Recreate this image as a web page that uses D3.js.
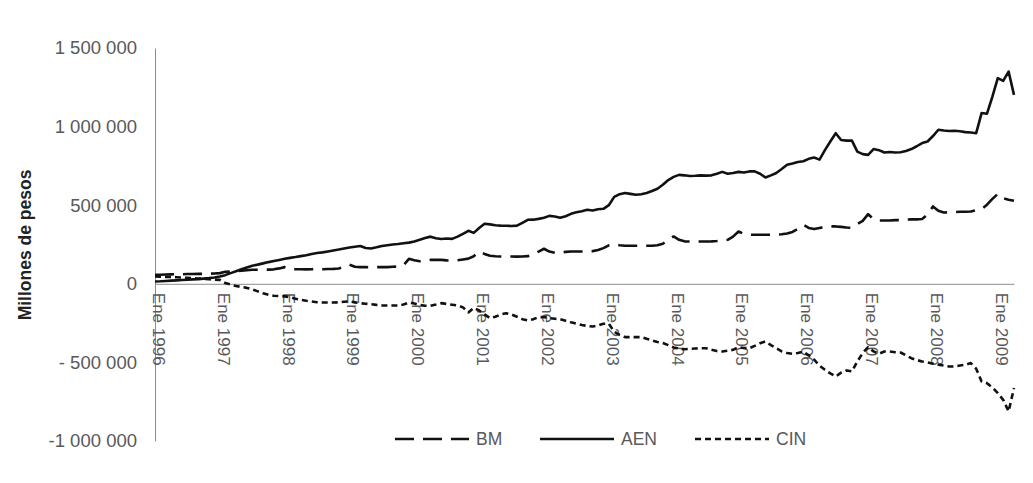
<!DOCTYPE html>
<html>
<head>
<meta charset="utf-8">
<script src="https://cdn.jsdelivr.net/npm/d3@7"></script>
<style>
	html, body { margin: 0; padding: 0; background: #fff; }
	svg { display: block; font-family: "Liberation Sans", Arial, sans-serif; }
</style>
</head>
<body>
<div id="chart"></div>
<script>
/* global d3 */

// Series values, monthly from Ene 1996, in thousands of millones de pesos
var years = [1996, 1997, 1998, 1999, 2000, 2001, 2002, 2003, 2004, 2005, 2006, 2007, 2008, 2009];
var monthNames = ['Ene', 'Feb', 'Mar', 'Abr', 'May', 'Jun', 'Jul', 'Ago', 'Sep', 'Oct', 'Nov', 'Dic'];

var bm = [
	57, 58, 59, 60, 61, 61, 62, 62, 63, 63, 64, 66,
	68, 76, 78, 80, 83, 86, 89, 89, 90, 90, 92, 98,
	106, 95, 93, 93, 92, 93, 94, 93, 94, 95, 97, 108,
	121, 108, 106, 106, 105, 106, 107, 106, 108, 110, 118, 159,
	150, 143, 145, 152, 153, 152, 149, 148, 150, 155, 160, 175,
	205, 190, 178, 175, 174, 174, 174, 173, 174, 176, 185, 205,
	223, 205, 197, 195, 203, 205, 205, 205, 205, 208, 215, 227,
	245, 252, 245, 242, 242, 242, 242, 242, 242, 245, 255, 280,
	301, 280, 270, 269, 269, 269, 269, 270, 272, 276, 280, 300,
	333, 318, 312, 312, 312, 312, 312, 313, 315, 320, 330, 350,
	375, 355, 348, 355, 362, 365, 365, 362, 358, 356, 380, 400,
	443, 410, 403, 403, 403, 405, 405, 408, 410, 410, 412, 440,
	492, 465, 454, 455, 456, 458, 458, 460, 468, 475, 503, 540,
	572, 544, 535, 528
];

var aen = [
	15, 16, 18, 20, 22, 24, 26, 28, 30, 33, 36, 40,
	46, 55, 68, 80, 92, 104, 115, 122, 130, 138, 145, 152,
	159, 165, 170, 176, 182, 190, 196, 200, 206, 212, 218, 225,
	231, 236, 240, 228, 225, 232, 240, 245, 250, 253, 258, 262,
	269, 280, 292, 300, 290, 285, 288, 286, 300, 318, 337, 324,
	355, 382, 378, 372, 370, 369, 368, 370, 388, 407, 408, 413,
	420, 432, 428, 420, 430, 445, 455, 462, 471, 466, 474, 477,
	500, 553, 570, 578, 572, 566, 570, 578, 590, 605, 630, 660,
	680, 693, 690, 686, 687, 690, 688, 690, 700, 712, 700, 705,
	712, 708, 715, 715, 700, 676, 690, 705, 730, 757, 765, 775,
	780, 795, 803, 790, 850, 905, 958, 915, 911, 911, 841, 825,
	820, 857, 850, 835, 838, 835, 837, 845, 857, 875, 895, 905,
	940, 980, 975, 972, 974, 970, 965, 962, 958, 1086, 1082, 1190,
	1308, 1291, 1350, 1202
];

var cin = [
	46, 45, 44, 43, 42, 40, 38, 36, 34, 32, 29, 27,
	25, 5, -5, -14, -20, -26, -35, -48, -60, -70, -76, -78,
	-80, -85, -95, -102, -108, -112, -117, -119, -119, -119, -118, -114,
	-112, -118, -124, -127, -130, -134, -137, -138, -138, -138, -132, -119,
	-125, -135, -140, -140, -132, -123, -128, -133, -138, -150, -182, -153,
	-170, -195, -218, -210, -195, -187, -195, -210, -225, -233, -225, -212,
	-212, -218, -222, -225, -235, -245, -254, -262, -268, -272, -265, -254,
	-254, -305, -325, -339, -339, -339, -339, -350, -360, -370, -377, -390,
	-405, -412, -416, -414, -412, -410, -410, -420, -428, -431, -425, -420,
	-403, -408, -410, -395, -378, -367, -390, -410, -430, -440, -445, -440,
	-431, -455, -483, -520, -547, -570, -590, -565, -551, -557, -494, -440,
	-403, -430, -445, -431, -431, -435, -437, -455, -473, -485, -494, -500,
	-508, -515, -520, -526, -526, -520, -515, -504, -540, -621, -632, -660,
	-695, -738, -812, -663
];

var yTicks = [-1000000, -500000, 0, 500000, 1000000, 1500000];
var yTickLabels = ['-1 000 000', '- 500 000', '0', '500 000', '1 000 000', '1 500 000'];
var yTitle = 'Millones de pesos';

var seriesNames = ['BM', 'AEN', 'CIN'];
var seriesDash = ['19,9', null, '6,4'];

(function() {

	var width = 1033,
		height = 483,
		margin = { top: 48, left: 155, right: 19, bottom: 42 },
		grey = '#595959',
		axisGrey = '#8c8c8c',
		ink = '#111';

	// Category labels: one per month, 'Ene 1996' ...
	var months = [];
	years.forEach(function(y) {
		monthNames.forEach(function(m) {
			months.push(m + ' ' + y);
		});
	});
	months = months.slice(0, bm.length);

	var series = [bm, aen, cin].map(function(vals, i) {
		return {
			name: seriesNames[i],
			dash: seriesDash[i],
			values: vals.map(function(v, j) {
				return { cat: months[j], value: v * 1000 };
			})
		};
	});

	var xScale = d3.scalePoint()
		.domain(months)
		.range([margin.left, width - margin.right]);

	var yScale = d3.scaleLinear()
		.domain([yTicks[0], yTicks[yTicks.length - 1]])
		.range([height - margin.bottom, margin.top]);

	var svg = d3.select('#chart').append('svg')
		.attr('width', width)
		.attr('height', height);

	// y-axis
	var yAxis = d3.axisLeft(yScale)
		.tickValues(yTicks)
		.tickSize(0)
		.tickPadding(18)
		.tickFormat(function(d, i) { return yTickLabels[i]; });
	var gY = svg.append('g')
		.attr('transform', 'translate(' + margin.left + ',0)')
		.call(yAxis);
	gY.select('.domain').attr('stroke', axisGrey).attr('stroke-width', 1);
	gY.selectAll('text')
		.attr('fill', grey)
		.style('font-size', '18.5px');

	// y title
	svg.append('text')
		.attr('transform', 'translate(31,245) rotate(-90)')
		.attr('text-anchor', 'middle')
		.attr('fill', '#222')
		.style('font-size', '17.5px')
		.style('font-weight', 'bold')
		.text(yTitle);

	// x-axis on zero
	var yearTicks = months.filter(function(d) { return d.indexOf('Ene') === 0; });
	var xAxis = d3.axisBottom(xScale)
		.tickValues(yearTicks)
		.tickSize(0)
		.tickPadding(0);
	var gX = svg.append('g')
		.attr('transform', 'translate(0,' + yScale(0) + ')')
		.call(xAxis);
	gX.select('.domain').attr('stroke', axisGrey).attr('stroke-width', 1);
	gX.selectAll('text')
		.attr('fill', grey)
		.attr('dy', null)
		.attr('y', 0)
		.attr('text-anchor', 'start')
		.attr('dominant-baseline', 'central')
		.attr('transform', 'translate(3,9) rotate(90)')
		.style('font-size', '17px');

	// Lines
	var line = d3.line()
		.x(function(d) { return xScale(d.cat); })
		.y(function(d) { return yScale(d.value); });

	svg.append('g').attr('class', 'lines')
		.selectAll('path')
		.data(series)
		.enter()
		.append('path')
		.attr('d', function(d) { return line(d.values); })
		.attr('fill', 'none')
		.attr('stroke', ink)
		.attr('stroke-width', 2.6)
		.attr('stroke-linejoin', 'round')
		.attr('stroke-dasharray', function(d) { return d.dash; });

	// Legend
	var legendX = [395, 540, 695],
		legendY = 439;
	var gLegend = svg.append('g').attr('class', 'legend')
		.selectAll('g')
		.data(series)
		.enter()
		.append('g')
		.attr('transform', function(d, i) {
			return 'translate(' + legendX[i] + ',' + legendY + ')';
		});
	gLegend.append('line')
		.attr('x1', 0)
		.attr('x2', 74)
		.attr('stroke', ink)
		.attr('stroke-width', 2.6)
		.attr('stroke-dasharray', function(d) { return d.dash; });
	gLegend.append('text')
		.attr('x', 81)
		.attr('dominant-baseline', 'central')
		.attr('fill', grey)
		.style('font-size', '17.5px')
		.text(function(d) { return d.name; });

})();
</script>
</body>
</html>
